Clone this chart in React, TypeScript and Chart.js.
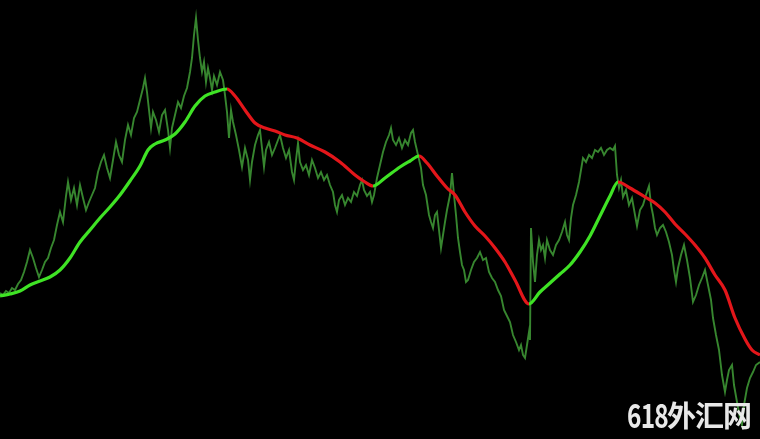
import React, { useEffect, useRef } from "react";
import { Chart, registerables } from "chart.js";
Chart.register(...registerables);

const priceX = [0,3,6,9,12,15,18,21,24,27,30,33,36,39,42,45,48,51,54,57,60,63,66,68,71,74,77,80,83,86,89,92,95,98,101,104,107,110,113,116,119,122,125,128,131,134,137,140,143,145,147,149,151,153,156,159,162,165,168,170,172,175,178,181,184,187,190,192,194,196,198,200,202,204,206,208,210,212,214,217,220,223,225,227,229,231,233,236,239,242,245,248,250,252,255,258,260,262,264,266,269,272,275,278,280,283,286,289,292,294,296,298,300,303,306,309,312,315,318,321,324,327,330,333,335,337,339,342,345,348,351,354,357,360,362,364,367,370,372,374,377,380,383,386,389,391,393,396,399,402,405,408,411,413,415,418,421,423,426,429,431,433,435,437,439,441,443,445,447,450,452,454,456,458,460,462,464,466,468,471,474,477,480,483,486,489,492,495,498,501,504,507,510,513,516,519,521,523,525,527,529,530,531,533,535,537,539,541,543,545,547,550,553,556,559,562,565,567,569,571,573,576,579,581,583,586,589,592,595,598,601,604,607,610,613,615,617,619,621,623,626,629,632,635,637,640,643,646,649,651,653,655,657,660,663,666,669,672,674,676,678,681,684,687,690,693,696,699,702,705,708,711,713,716,719,722,725,727,729,732,734,737,740,742,744,747,750,753,756,760];
const priceValues = [147,145,149,147,152,150,156,160,168,178,190,182,172,163,170,178,182,192,200,215,228,218,244,258,240,252,235,255,242,230,238,245,252,268,278,285,272,262,280,298,285,278,300,315,305,322,328,340,352,362,348,330,312,328,320,308,325,330,310,292,312,325,338,332,344,352,368,382,405,422,400,382,368,378,358,372,362,350,364,355,368,360,345,328,302,330,318,305,290,273,292,280,260,278,295,305,310,292,273,290,298,285,292,300,305,292,282,290,268,260,280,297,278,270,275,265,280,272,262,268,260,265,255,248,235,228,240,245,235,242,238,248,244,255,260,250,244,248,238,245,262,275,288,298,305,312,300,295,302,292,300,295,307,310,298,285,272,255,245,225,218,212,225,228,210,192,205,218,230,245,267,245,225,202,188,175,170,158,160,170,178,182,188,180,182,168,162,158,150,144,130,124,118,105,98,90,95,85,82,95,108,100,212,178,158,185,200,190,195,182,200,190,185,195,200,208,218,205,200,222,235,245,258,270,282,278,285,282,290,288,292,285,290,292,290,294,265,252,260,243,250,235,242,225,214,230,235,245,254,235,225,212,205,212,215,208,198,185,170,158,172,185,195,180,162,138,145,155,162,170,155,140,122,105,90,65,48,60,70,75,55,38,22,15,35,52,62,68,75,78];

const maX = [0,10,20,30,40,50,60,70,80,90,100,110,120,130,140,148,155,165,175,185,195,205,215,227,235,245,255,265,275,285,297,310,325,340,355,365,373,385,400,410,419,427,437,447,455,465,475,485,495,505,515,529,540,550,560,570,580,590,600,610,618,630,645,655,665,675,685,695,705,715,725,735,745,752,760];
const maValues = [144,146,149,155,159,163,170,182,198,210,222,233,245,259,274,290,296,300,306,318,334,344,348,351,344,330,317,312,309,305,302,295,288,278,265,258,254,262,273,279,284,277,264,252,245,228,214,204,192,178,160,136,148,157,166,175,188,204,224,244,258,252,243,237,228,216,206,195,182,165,150,122,101,90,85];

const watermarkDigits = "618";
const watermarkText = "外汇网";

const RISE = "#3fe325";
const FALL = "#e3161a";
const PRICE = "#37862f";

export default function App() {
  const ref = useRef<HTMLCanvasElement | null>(null);
  useEffect(() => {
    document.body.style.margin = "0";
    document.body.style.background = "#000";
    const ctx = ref.current!;
    const chart = new Chart(ctx, {
      type: "line",
      data: {
        datasets: [
          {
            label: "MA",
            data: maX.map((x, i) => ({ x, y: maValues[i] })),
            borderWidth: 3.2,
            borderColor: RISE,
            pointRadius: 0,
            cubicInterpolationMode: "monotone",
            order: 0,
            segment: {
              borderColor: (c: any) => (c.p1.parsed.y >= c.p0.parsed.y ? RISE : FALL),
            },
          },
          {
            label: "Price",
            data: priceX.map((x, i) => ({ x, y: priceValues[i] })),
            borderWidth: 1.9,
            borderColor: PRICE,
            pointRadius: 0,
            tension: 0,
            order: 1,
          },
        ],
      },
      options: {
        animation: false,
        responsive: true,
        maintainAspectRatio: false,
        layout: { padding: 0 },
        plugins: { legend: { display: false }, tooltip: { enabled: false } },
        scales: {
          x: { type: "linear", min: 0, max: 760, display: false },
          y: { type: "linear", min: 1, max: 440, display: false },
        },
      },
    });
    return () => chart.destroy();
  }, []);
  const wm: React.CSSProperties = {
    position: "absolute",
    color: "#e8e8e8",
    fontFamily: "'Noto Sans CJK SC', 'Noto Sans', sans-serif",
    fontWeight: 700,
    whiteSpace: "nowrap",
    lineHeight: "40px",
    top: 394,
  };
  return (
    <div style={{ position: "fixed", left: 0, top: 0, width: 760, height: 439, background: "#000" }}>
      <canvas ref={ref} />
      <span style={{ ...wm, left: 627, fontSize: 33, letterSpacing: -1, transform: "scaleX(0.74)", transformOrigin: "left" }}>
        {watermarkDigits}
      </span>
      <span style={{ ...wm, left: 667, fontSize: 29, letterSpacing: -1 }}>{watermarkText}</span>
    </div>
  );
}
